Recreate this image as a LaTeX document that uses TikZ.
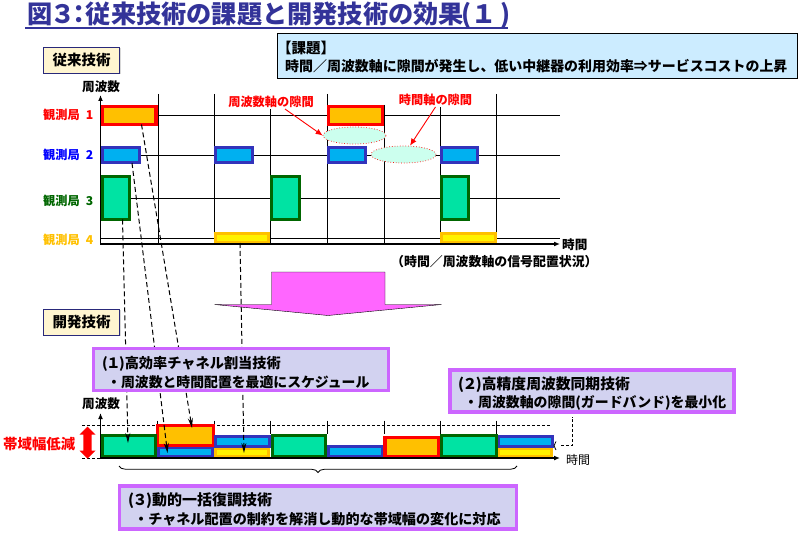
\documentclass[tikz,border=0pt]{standalone}
\usepackage{fontspec}
\setmainfont{Noto Sans CJK JP}
\usepackage{tikz}
\usetikzlibrary{arrows.meta, calc, shadows, shapes.geometric, shapes.arrows, decorations.pathreplacing}
\definecolor{TitleBlue}{HTML}{333399}
\definecolor{SlotBlue}{HTML}{3333BB}
\definecolor{SlotCyan}{HTML}{00B0F0}
\definecolor{SlotGreen}{HTML}{006600}
\definecolor{SlotMint}{HTML}{00E3A3}
\definecolor{SlotGold}{HTML}{FFC000}
\definecolor{TagFill}{HTML}{FFF5D0}
\definecolor{IssueFill}{HTML}{CCECFF}
\definecolor{TechDraw}{HTML}{CC66FF}
\definecolor{TechFill}{HTML}{D2D2F0}
\definecolor{GapFill}{HTML}{CCFFEE}
\definecolor{ArrowPink}{HTML}{FF66FF}
\newcommand{\fs}[1]{\fontsize{#1}{#1}\selectfont\bfseries}
\newcommand{\zwslash}{^^^^ff0f}
\newcommand{\TechNo}[1]{(\hspace{-1.5pt}#1\hspace{-1.5pt})}
\tikzset{
	textnode/.style={inner sep=0pt, anchor=west},
	slot/.style={draw, line width=3pt, inner sep=0pt, outer sep=0pt},
	slotred/.style={slot, draw=red, line width=3.8pt, fill=SlotGold},
	slotblue/.style={slot, draw=SlotBlue, fill=SlotCyan},
	slotgreen/.style={slot, draw=SlotGreen, fill=SlotMint},
	slotyellow/.style={slot, draw=SlotGold, fill=yellow},
	tagbox/.style={draw=TitleBlue!80!black, line width=1pt, fill=TagFill, inner sep=0pt, minimum width=76pt, minimum height=26pt, drop shadow={shadow xshift=1pt, shadow yshift=-1pt, fill=gray!60}, font=\fs{14.5}},
	techbox/.style={draw=TechDraw, line width=3.5pt, fill=TechFill, inner sep=0pt},
	gapcloud/.style={ellipse, draw=red, dotted, line width=0.7pt, fill=GapFill, inner sep=0pt},
	gaplabel/.style={text=red, fill=white, inner sep=1pt, font=\fs{12.2}},
	gaparrow/.style={red, line width=0.9pt, -{Latex[length=7pt,width=6pt]}},
	mapline/.style={black, line width=1pt, dash pattern=on 5pt off 3pt, -{Stealth[open,length=10pt,width=5pt]}},
	gridline/.style={black, line width=0.8pt},
	axisline/.style={black, line width=1.5pt, -{Latex[length=6pt,width=5pt]}},
}
% slot box given by its outer corners
\newcommand{\Slot}[6]{
	\node[#1, minimum width={(#5-#3)*1pt-3pt}, minimum height={(#6-#4)*1pt-3pt}] (#2) at ({(#3+#5)/2},{(#4+#6)/2}) {};
}

\begin{document}
\begin{tikzpicture}[x=1pt, y=-1pt]

	\useasboundingbox (0,0) rectangle (799,534);

	\node[textnode, text=TitleBlue, font=\fs{25.2}] (title) at (27,15.5) {図\hspace{-2pt}^^^^ff13\hspace{-9pt}^^^^ff1a\hspace{-6pt}従来技術の課題と開発技術の効果\hspace{-2pt}(^^^^ff11\hspace{3pt})};
	\draw[TitleBlue, line width=1.5pt] (25,28) -- (508,28);

	\node[draw=black, line width=1pt, fill=IssueFill, minimum width=520pt, minimum height=45pt] (issue) at (537,56) {};
	\node[textnode, font=\fs{14.5}] (issuehead) at (277,48) {【課題】};
	\node[textnode, font=\fs{13.95}] (issuetext) at (285,66) {時間\zwslash 周波数軸に隙間が発生し、低い中継器の利用効率⇒サービスコストの上昇};

	\node[tagbox] (tagold) at (81.5,60.5) {従来技術\hspace{4pt}};
	\node[textnode, font=\fs{12.6}] (freqold) at (82,87) {周波数};

	% upper chart
	\foreach \yy in {115.5,155,198,238.5}
		\draw[gridline] (100,\yy) -- (560,\yy);
	\foreach \xx/\yy in {158/94,214.5/94,270/108,327/94,384.5/105,440/107,496.5/94}
		\draw[gridline] (\xx,\yy) -- (\xx,244);

	\foreach \yy/\nn/\cc in {115/1/red,155/2/blue,201/3/SlotGreen,240/4/SlotGold}
		\node[textnode, text=\cc, font=\fs{12.2}] (station\nn) at (43,\yy) {観測局\hspace{6pt}\nn};

	\Slot{slotred}{ra}{101}{105}{157.5}{126}
	\Slot{slotred}{rb}{327}{105}{384}{126}
	\Slot{slotblue}{ba}{101}{146}{140.5}{164.5}
	\Slot{slotblue}{bb}{214}{146}{253.5}{164.5}
	\Slot{slotblue}{bc}{327}{146}{366.5}{164.5}
	\Slot{slotblue}{bd}{440}{146}{478.5}{164.5}
	\Slot{slotgreen}{ga}{101}{175}{131}{221}
	\Slot{slotgreen}{gb}{270}{175}{300.5}{221}
	\Slot{slotgreen}{gc}{440}{175}{469.5}{221}
	\Slot{slotyellow}{ya}{214}{232}{270}{244.5}
	\Slot{slotyellow}{yb}{440}{232}{496.5}{244.5}

	\draw[axisline] (100.5,245) -- (100.5,95);
	\draw[axisline] (100,244) -- (560,244);
	\node[textnode, font=\fs{12.6}] (timeold) at (562,244.5) {時間};
	\node[textnode, font=\fs{12.9}] (caption) at (391,261.5) {^^^^ff08時間\zwslash 周波数軸の信号配置状況^^^^ff09};

	\node[ellipse, gapcloud, minimum width=63pt, minimum height=17pt] (gapa) at (354.5,135.5) {};
	\node[ellipse, gapcloud, minimum width=65pt, minimum height=17pt] (gapb) at (403.5,154.5) {};
	\node[gaplabel] (gaplabela) at (271,102) {周波数軸の隙間};
	\node[gaplabel] (gaplabelb) at (435.5,100) {時間軸の隙間};
	\draw[gaparrow] ([xshift=14pt]gaplabela.south) -- (gapa.west);
	\draw[gaparrow] (gaplabelb.south) -- ([xshift=6.5pt]gapb.north);

	% big arrow
	\filldraw[draw=black, line width=0.4pt, fill=ArrowPink] (271.5,272) -- (385,272) -- (385,304.5) -- (441.5,304.5) -- (328,315.5) -- (214.5,304.5) -- (271.5,304.5) -- cycle;

	\node[tagbox] (tagnew) at (81.5,322) {開発技術\hspace{4pt}};

	% lower chart
	\draw[black, line width=0.8pt, densely dashed] (82,425) -- (550,425);
	\draw[black, line width=0.8pt, densely dashed] (82,458) -- (550,458);
	\foreach \xx in {157.5,214.5,270,327,384,440,496.5}
		\draw[black, line width=0.5pt] (\xx,420.5) -- (\xx,434);

	\Slot{slotblue}{lba}{157}{446}{214}{457.5}
	\Slot{slotred}{lra}{156}{424}{215}{447}
	\Slot{slotyellow}{lya}{214}{446.5}{270}{458}
	\Slot{slotblue}{lbb}{214}{435}{271}{447.5}
	\Slot{slotgreen}{lga}{101}{433.5}{157}{457.5}
	\Slot{slotgreen}{lgb}{270.5}{433.5}{327}{457.5}
	\Slot{slotblue}{lbc}{327}{445}{384}{458}
	\Slot{slotred}{lrb}{383.5}{436}{440}{458}
	\Slot{slotyellow}{lyb}{497}{447}{553}{458}
	\Slot{slotblue}{lbd}{497}{435}{553.5}{448}
	\Slot{slotgreen}{lgc}{440}{433.5}{497.5}{458}

	\draw[axisline] (100.5,458.5) -- (100.5,413);
	\draw[axisline, line width=1.2pt] (100,458) -- (560,458);
	\node[textnode, font=\fs{12.6}] (freqnew) at (82,404) {周波数};
	\node[textnode, font=\fontsize{12}{12}\selectfont] (timenew) at (566,460) {時間};

	\node[double arrow, draw=none, fill=red, minimum width=16pt, minimum height=32pt, double arrow head extend=2.5pt, inner sep=2.5pt, shape border rotate=90] (narrow) at (87.5,442.5) {};
	\node[textnode, text=red, font=\fs{14.4}] (narrowlabel) at (3,444) {帯域幅低減};

	% mapping from the upper slots to the lower ones
	\coordinate (enda) at (128,443);
	\coordinate (endb) at (167.5,453);
	\coordinate (endc) at (192,428);
	\coordinate (endd) at (244,453);
	\draw[mapline] ([xshift=20pt]ga.south west) -- (enda);
	\draw[mapline] ([xshift=29.5pt]ba.south west) -- (endb);
	\draw[mapline] ([xshift=39pt]ra.south west) -- (endc);
	\draw[mapline] ([xshift=24.5pt]ya.south west) -- (endd);

	\node[techbox, minimum width=295pt, minimum height=42pt] (techa) at (241,369.5) {};
	\node[textnode, font=\fs{14.2}] (techatop) at (102,364) {\TechNo{^^^^ff11}高効率チャネル割当技術};
	\node[textnode, font=\fs{13.85}] (techabot) at (107,382) {・周波数と時間配置を最適にスケジュール};

	\node[techbox, minimum width=284pt, minimum height=42pt] (techb) at (592,391) {};
	\node[textnode, font=\fs{14.8}] (techbtop) at (458,385) {\TechNo{^^^^ff12}高精度周波数同期技術};
	\node[textnode, font=\fs{13.9}] (techbbot) at (464,403) {・周波数軸の隙間(ガードバンド)を最小化};

	\node[techbox, minimum width=397pt, minimum height=43pt] (techc) at (318,507.5) {};
	\node[textnode, font=\fs{15}] (techctop) at (128,501) {\TechNo{^^^^ff13}動的一括復調技術};
	\node[textnode, font=\fs{14.1}] (techcbot) at (134,519) {・チャネル配置の制約を解消し動的な帯域幅の変化に対応};

	% braces
	\coordinate (bracea) at (119,466);
	\coordinate (braceb) at (517,466);
	\draw[black, line width=0.8pt, decorate, decoration={brace, mirror, amplitude=6.5pt}] (bracea) -- (braceb);
	\coordinate (bracec) at (556,441.5);
	\coordinate (braced) at (556,450);
	\draw[black, line width=0.8pt, decorate, decoration={brace, mirror, amplitude=2pt}] (bracec) -- (braced);
	\coordinate (bendtop) at (572.5,416.5);
	\draw[black, line width=0.8pt, densely dashed] (561,445.5) -- (572.5,445.5) -- (bendtop);

\end{tikzpicture}
\end{document}
